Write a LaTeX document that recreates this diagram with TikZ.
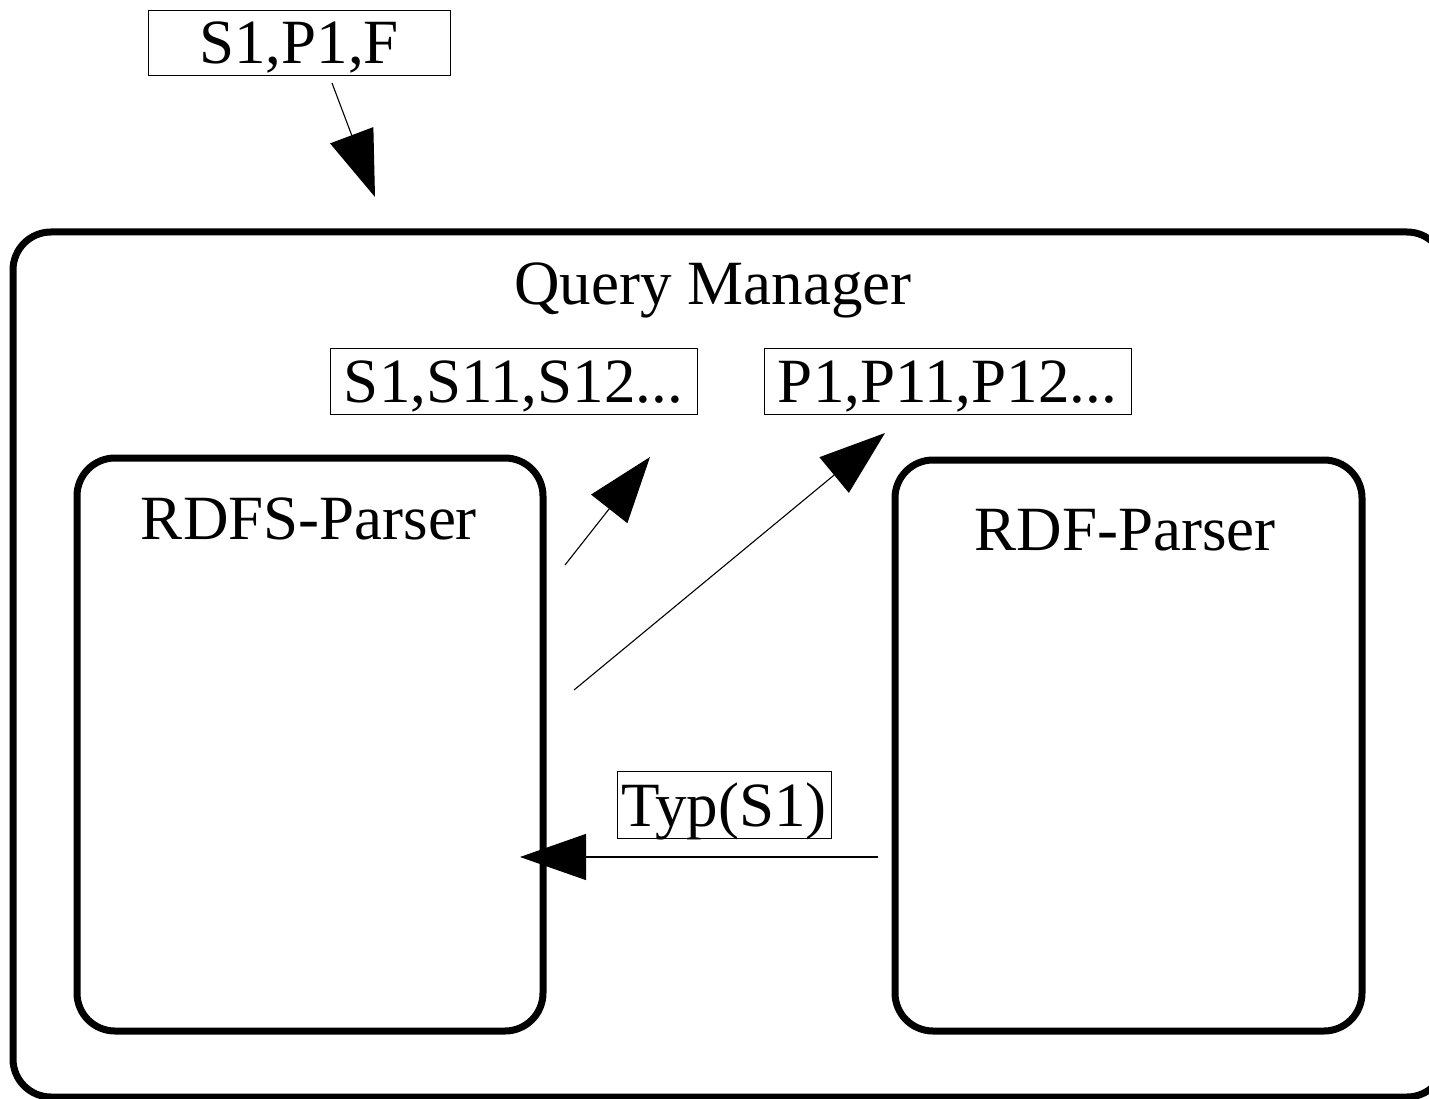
\documentclass[tikz,border=0pt]{standalone}
\usepackage{fontspec}
\setmainfont{Liberation Serif}
\usetikzlibrary{arrows.meta}
\begin{document}
\begin{tikzpicture}[x=1pt,y=-1pt,
  lbl/.style={draw, line width=0.8pt, inner sep=0pt, text height=48.5pt, text depth=6.3pt, font=\fontsize{63}{70}\selectfont},
  parser/.style={draw, line width=7pt, rounded corners=38pt},
  txt/.style={font=\fontsize{63}{70}\selectfont, inner sep=0pt, anchor=base},
  flow/.style={line width=1.1pt, -{Triangle[length=66pt,width=46pt]}}]
\useasboundingbox (0,0) rectangle (1429,1099);
% outer query manager box (clipped at right and bottom)
\begin{scope}
\clip (0,0) rectangle (1429,1099);
\draw[parser] (13,232) rectangle (1445,1097);
\end{scope}
\node[txt] (qm) at (713,305) {Query Manager};
% parsers
\draw[parser] (77,458) rectangle (543,1031);
\draw[parser] (895,460) rectangle (1362,1031);
\node[txt] (rdfs) at (309,539) {RDFS-Parser};
\node[txt] (rdf) at (1125,550) {RDF-Parser};
% labels
\node[lbl, minimum width=302pt, minimum height=65pt] (in) at (299,42.5) {S1,P1,F};
\node[lbl, minimum width=367pt, minimum height=66pt] (sl) at (513.5,381) {S1,S11,S12...};
\node[lbl, minimum width=367pt, minimum height=66pt] (pl) at (947.5,381) {P1,P11,P12...};
\node[lbl, minimum width=214pt, minimum height=67pt, text height=51pt] (typ) at (724,804.5) {Typ(S1)};
% connector ends
\coordinate (a0) at (332,83);
\coordinate (a1) at (375,197);
\coordinate (b0) at (565,565);
\coordinate (b1) at (650,457);
\coordinate (c0) at (574,690);
\coordinate (c1) at (885,433);
\coordinate (d0) at (878,857);
\coordinate (d1) at (520,857);
\draw[flow] (a0) -- (a1);
\draw[flow] (b0) -- (b1);
\draw[flow] (c0) -- (c1);
\draw[flow] (d0) -- (d1);
\end{tikzpicture}
\end{document}
